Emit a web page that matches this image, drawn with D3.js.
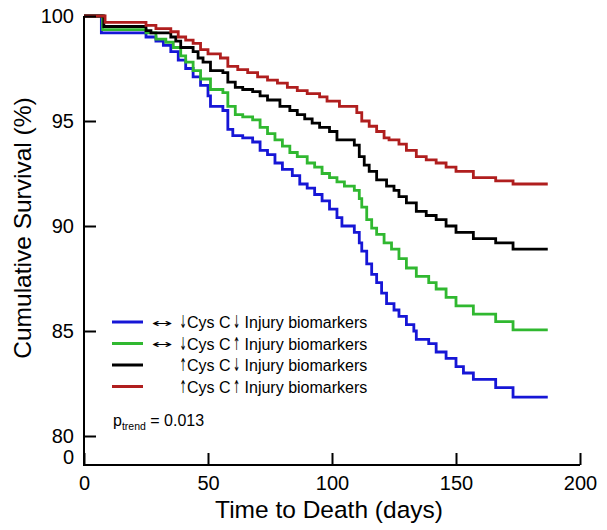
<!DOCTYPE html>
<html>
<head>
<meta charset="utf-8">
<script src="https://cdn.jsdelivr.net/npm/d3@7"></script>
<style>
  html, body { margin: 0; padding: 0; background: #fff; }
  svg { display: block; font-family: "Liberation Sans", Arial, Helvetica, sans-serif; }
</style>
</head>
<body>
<svg id="chart" width="607" height="530"></svg>
<script>
// ---- data ----
const xTicks = [0, 50, 100, 150, 200];
const yTicks = [100, 95, 90, 85, 80];
const endDay = 187;

const blueSeries = [[0,100],[7,99.2],[25,99.0],[29,98.8],[32,98.6],[35,98.3],[38,97.9],[41,97.5],[44,97.1],[47,96.7],[50,96.2],[51,95.7],[56,95.5],[58,94.6],[60,94.3],[64,94.2],[68,94.0],[71,93.6],[74,93.4],[77,93.0],[80,92.7],[84,92.4],[87,92.0],[90,91.8],[93,91.5],[96,91.2],[99,90.8],[102,90.4],[104,90.0],[109,89.7],[111,89.2],[112,88.8],[114,88.2],[116,87.7],[118,87.3],[120,86.8],[122,86.3],[125,86.0],[127,85.7],[130,85.3],[133,85.0],[134,84.6],[139,84.4],[142,84.0],[146,83.7],[150,83.3],[153,83.0],[157,82.7],[166,82.3],[173,81.85]];
const greenSeries = [[0,100],[7.5,99.35],[25,99.2],[29,98.9],[33,98.75],[36,98.5],[39,98.1],[41,97.8],[44,97.4],[47,97.0],[51,96.5],[56,96.35],[58,95.7],[61,95.3],[64,95.2],[68,95.05],[71,94.7],[74,94.4],[77,94.1],[80,93.8],[83,93.5],[86,93.3],[90,93.0],[93,92.8],[96,92.5],[99,92.3],[102,92.1],[105,91.9],[109,91.7],[111,91.3],[112,90.9],[114,90.3],[116,89.9],[118,89.6],[121,89.2],[124,88.9],[127,88.45],[130,88.0],[134,87.6],[139,87.3],[142,87.0],[146,86.6],[150,86.2],[157,85.8],[166,85.45],[173,85.05]];
const blackSeries = [[0,100],[8,99.5],[25,99.3],[27,99.2],[35,99.0],[37,98.8],[39,98.5],[44,98.3],[46,98.0],[48,97.8],[51,97.4],[56,97.3],[58,96.85],[61,96.6],[64,96.5],[68,96.4],[71,96.2],[74,96.0],[79,95.7],[83,95.5],[86,95.3],[89,95.1],[92,94.9],[95,94.7],[99,94.5],[102,94.1],[109,93.85],[111,93.3],[113,92.9],[115,92.6],[118,92.2],[122,91.9],[125,91.7],[127,91.4],[130,91.1],[134,90.7],[138,90.5],[142,90.3],[146,90.0],[150,89.7],[157,89.4],[166,89.2],[173,88.9]];
const redSeries = [[0,100],[8.5,99.7],[25,99.55],[29,99.4],[35,99.25],[38,99.0],[41,98.85],[44,98.7],[47,98.4],[50,98.2],[55,98.0],[58,97.6],[62,97.45],[66,97.3],[70,97.1],[74,96.95],[78,96.8],[82,96.6],[86,96.45],[90,96.3],[95,96.15],[98,95.95],[103,95.7],[110,95.4],[112,95.0],[115,94.75],[118,94.5],[121,94.2],[123,94.1],[127,93.9],[130,93.6],[134,93.3],[138,93.15],[142,93.0],[146,92.8],[150,92.6],[157,92.3],[166,92.15],[173,92.0]];

const legendCysArrows = ["\u2193", "\u2193", "\u2191", "\u2191"];
const legendInjArrows = ["\u2193", "\u2191", "\u2193", "\u2191"];
const legendDouble = [true, true, false, false];

const seriesList = [
  { data: blueSeries,  color: "#1616d6" },
  { data: greenSeries, color: "#30b830" },
  { data: blackSeries, color: "#000000" },
  { data: redSeries,   color: "#b01e1e" }
];

// ---- layout ----
const svg = d3.select("#chart");
const x0 = 84, x1 = 580, yTop = 16, y80 = 436, yAxis = 465;

const x = d3.scaleLinear().domain([0, 200]).range([x0, x1]);
const y = d3.scaleLinear().domain([80, 100]).range([y80, yTop]);

// curves
const line = d3.line().x(d => x(d[0])).y(d => y(d[1])).curve(d3.curveStepAfter);
seriesList.forEach(s => {
  const pts = s.data.concat([[endDay, s.data[s.data.length - 1][1]]]);
  svg.append("path").attr("d", line(pts))
    .attr("fill", "none").attr("stroke", s.color)
    .attr("stroke-width", 2.8).attr("stroke-linejoin", "miter");
});

// axes
const tickFont = 20;
const yAx = svg.append("g").attr("transform", `translate(${x0},0)`)
  .call(d3.axisLeft(y).tickValues(yTicks).tickSize(-12).tickPadding(10));
yAx.select(".domain").remove();
yAx.selectAll(".tick line").attr("stroke", "#000").attr("stroke-width", 2);
yAx.selectAll(".tick text").attr("font-size", tickFont).attr("fill", "#000")
  .attr("font-family", "Liberation Sans, Arial, sans-serif");

const xAx = svg.append("g").attr("transform", `translate(0,${yAxis})`)
  .call(d3.axisBottom(x).tickValues(xTicks).tickSize(-12).tickPadding(11));
xAx.select(".domain").remove();
xAx.selectAll(".tick line").attr("stroke", "#000").attr("stroke-width", 2);
xAx.selectAll(".tick text").attr("font-size", tickFont).attr("fill", "#000")
  .attr("font-family", "Liberation Sans, Arial, sans-serif");

svg.append("path")
  .attr("d", `M${x0},${yTop}V${yAxis}H${x1}`)
  .attr("fill", "none").attr("stroke", "#000").attr("stroke-width", 2);

// broken-axis "0" label on y
svg.append("text").attr("x", x0 - 10).attr("y", yAxis - 1)
  .attr("text-anchor", "end")
  .attr("font-size", tickFont).text("0");

// titles
svg.append("text")
  .attr("transform", `translate(31,228) rotate(-90)`)
  .attr("text-anchor", "middle").attr("font-size", 24.5).text("Cumulative Survival (%)");
svg.append("text").attr("x", 329).attr("y", 518)
  .attr("text-anchor", "middle").attr("font-size", 24.5).text("Time to Death (days)");

// legend
const legY0 = 322, legDy = 21.5, legFont = 16;
function arrow(ch, cx, base) {
  svg.append("text")
    .attr("transform", `translate(${cx},${base}) scale(0.5,1.05)`)
    .attr("text-anchor", "middle")
    .attr("font-family", "DejaVu Sans")
    .attr("font-size", 17).text(ch);
}
seriesList.forEach((s, i) => {
  const ly = legY0 + i * legDy;
  const base = ly + 6;
  svg.append("line").attr("x1", 112).attr("x2", 143).attr("y1", ly).attr("y2", ly)
    .attr("stroke", s.color).attr("stroke-width", 3);
  if (legendDouble[i]) {
    svg.append("text")
      .attr("transform", `translate(162,${ly + 4.5}) scale(1,0.75)`)
      .attr("text-anchor", "middle").attr("font-family", "DejaVu Sans")
      .attr("font-size", 15).attr("textLength", 21).attr("lengthAdjust", "spacingAndGlyphs")
      .text("\u2194");
  }
  arrow(legendCysArrows[i], 183, base);
  const cys = svg.append("text").attr("x", 187).attr("y", base)
    .attr("font-size", legFont).text("Cys C");
  const cw = cys.node().getComputedTextLength();
  const a2 = 187 + cw + 6;
  arrow(legendInjArrows[i], a2, base);
  svg.append("text").attr("x", a2 + 8).attr("y", base)
    .attr("font-size", legFont).text("Injury biomarkers");
});

// p trend
const pt = svg.append("text").attr("x", 113).attr("y", 426).attr("font-size", 16);
pt.append("tspan").text("p");
pt.append("tspan").text("trend").attr("font-size", 10.5).attr("dy", 4);
pt.append("tspan").text(" = 0.013").attr("dy", -4);
</script>
</body>
</html>
